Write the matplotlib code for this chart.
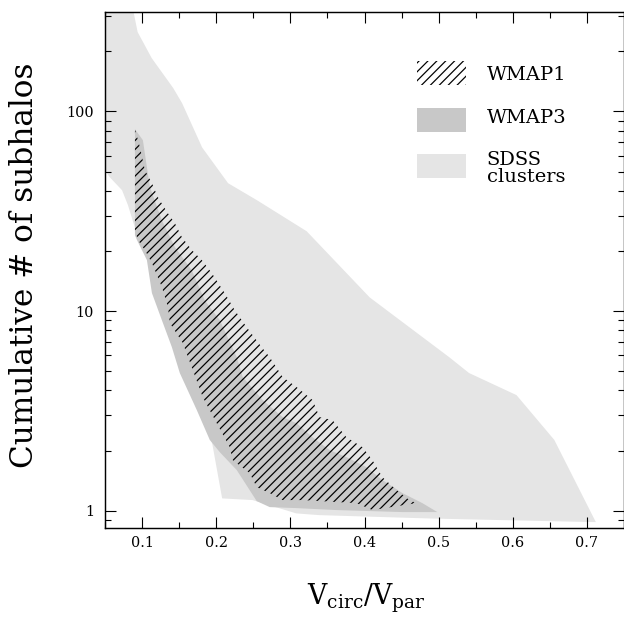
import matplotlib
matplotlib.use("Agg")
import matplotlib.pyplot as plt
from matplotlib.patches import Rectangle
from matplotlib.ticker import LogLocator, MultipleLocator, FixedFormatter, FixedLocator, NullFormatter
import numpy as np

# SDSS clusters band: upper and lower envelopes (Vcirc/Vpar, cumulative N)
sdss_upper_x = [0.040, 0.086, 0.088, 0.094, 0.113, 0.142, 0.154, 0.181, 0.216, 0.255,
                0.322, 0.407, 0.514, 0.541, 0.605, 0.656, 0.712]
sdss_upper_n = [400, 400, 322, 250, 185, 131, 110, 66, 43.7, 35.9,
                25.1, 11.7, 5.88, 4.89, 3.79, 2.26, 0.876]
sdss_lower_x = [0.040, 0.050, 0.056, 0.073, 0.081, 0.090, 0.110, 0.140, 0.170, 0.195,
                0.208, 0.249, 0.308, 0.339, 0.492, 0.700]
sdss_lower_n = [55, 50.8, 47, 40.3, 33.9, 26.4, 20, 10, 5, 2.13,
                1.151, 1.129, 0.968, 0.949, 0.912, 0.877]

# WMAP3 band
wmap3_upper_x = [0.0904, 0.1011, 0.1065, 0.1106, 0.1267, 0.1442, 0.1671, 0.1846, 0.2048,
                 0.2277, 0.2357, 0.2627, 0.2896, 0.3084, 0.3300, 0.3528, 0.3757, 0.4026,
                 0.4242, 0.4511, 0.4780, 0.4982]
wmap3_upper_n = [81.5, 71.8, 52.6, 41.8, 28.5, 20.9, 16.0, 11.3, 9.0,
                 5.88, 4.67, 3.58, 2.94, 2.74, 2.33, 2.01, 1.853, 1.651,
                 1.422, 1.224, 1.090, 0.983]
wmap3_lower_x = [0.0904, 0.0904, 0.0931, 0.1065, 0.1133, 0.1267, 0.1402, 0.1509, 0.1738,
                 0.1913, 0.2048, 0.2277, 0.2546, 0.2721, 0.3084, 0.3623, 0.4511, 0.4982]
wmap3_lower_n = [81.5, 24.0, 22.7, 18.0, 12.3, 9.0, 6.59, 4.89, 3.19,
                 2.26, 1.963, 1.596, 1.116, 1.041, 1.029, 1.006, 0.983, 0.983]

# WMAP1 band (hatched)
wmap1_upper_x = [0.0904, 0.0971, 0.1038, 0.1133, 0.1213, 0.1348, 0.1442, 0.1536, 0.1671,
                 0.1806, 0.1940, 0.2115, 0.2250, 0.2411, 0.2613, 0.2721, 0.2896, 0.3084,
                 0.3300, 0.3394, 0.3569, 0.3757, 0.3972, 0.4107, 0.4242, 0.4430, 0.4605,
                 0.4699]
wmap1_upper_n = [81.5, 66.2, 50.8, 43.7, 37.2, 30.9, 27.6, 23.5, 20.2,
                 18.0, 15.5, 12.3, 10.1, 8.30, 6.59, 5.88, 4.67, 4.16,
                 3.58, 2.94, 2.84, 2.33, 2.08, 1.79, 1.47, 1.27, 1.129,
                 1.090]
wmap1_lower_x = [0.0904, 0.0904, 0.0944, 0.1038, 0.1133, 0.1267, 0.1348, 0.1375, 0.1550,
                 0.1684, 0.1819, 0.2007, 0.2182, 0.2223, 0.2452, 0.2546, 0.2721, 0.2896,
                 0.3165, 0.3892, 0.4107, 0.4699]
wmap1_lower_n = [81.5, 25.4, 22.7, 20.2, 17.4, 13.2, 10.5, 8.70, 6.91,
                 5.06, 3.70, 2.74, 2.08, 1.79, 1.541, 1.311, 1.224, 1.129,
                 1.129, 1.090, 1.006, 1.090]

x_ticks = [0.1, 0.2, 0.3, 0.4, 0.5, 0.6, 0.7]
y_ticks = [1, 10, 100]
y_tick_labels = ["1", "10", "100"]
legend_labels = ["WMAP1", "WMAP3", "SDSS\nclusters"]

light = "#e5e5e5"
dark = "#c8c8c8"

plt.rcParams["font.family"] = ["DejaVu Serif"]
plt.rcParams["mathtext.fontset"] = "dejavuserif"
plt.rcParams["hatch.linewidth"] = 1.1


def band(xu, nu, xl, nl):
    xs = list(xu) + list(xl)[::-1]
    ns = list(nu) + list(nl)[::-1]
    return xs, ns


fig = plt.figure(figsize=(7.8, 7.725), dpi=80)
ax = fig.add_axes([105 / 624, 90 / 618, 519 / 624, 516 / 618])

xs, ns = band(sdss_upper_x, sdss_upper_n, sdss_lower_x, sdss_lower_n)
ax.fill(xs, ns, color=light, lw=0, zorder=1)
xs, ns = band(wmap3_upper_x, wmap3_upper_n, wmap3_lower_x, wmap3_lower_n)
ax.fill(xs, ns, color=dark, lw=0, zorder=2)
xs, ns = band(wmap1_upper_x, wmap1_upper_n, wmap1_lower_x, wmap1_lower_n)
ax.fill(xs, ns, facecolor="none", edgecolor="black", hatch="///", lw=0, zorder=3)

ax.set_yscale("log")
ax.set_xlim(0.05, 0.75)
ax.set_ylim(0.818, 315)

ax.xaxis.set_major_locator(FixedLocator(x_ticks))
ax.xaxis.set_minor_locator(MultipleLocator(0.05))
ax.yaxis.set_major_locator(FixedLocator(y_ticks))
ax.yaxis.set_major_formatter(FixedFormatter(y_tick_labels))
ax.yaxis.set_minor_locator(LogLocator(base=10, subs=np.arange(2, 10)))
ax.yaxis.set_minor_formatter(NullFormatter())

ax.tick_params(which="both", direction="in", top=True, right=True, width=1.0,
               labelsize=13)
ax.tick_params(which="major", length=10)
ax.tick_params(which="minor", length=5)
ax.tick_params(axis="x", pad=7)
ax.tick_params(axis="y", pad=10)
for s in ax.spines.values():
    s.set_linewidth(1.3)

ax.set_xlabel(r"$\mathrm{V_{circ}/V_{par}}$", fontsize=24)
ax.xaxis.label.set_va("baseline")
ax.xaxis.set_label_coords(0.503, -0.149)
ax.set_ylabel("Cumulative # of subhalos", fontsize=28)
ax.yaxis.label.set_va("baseline")
ax.yaxis.set_label_coords(-0.139, 0.51)

# legend keys drawn by hand (axes fractions)
key_x, key_w, key_h = 0.6006, 0.0944, 0.0465
key_y = [0.858, 0.768, 0.679]
text_x = 0.7355
text_y = [0.868, 0.785, 0.6705]   # baseline of the last line of each label
key_styles = [dict(facecolor="none", edgecolor="black", hatch="///", lw=0),
              dict(facecolor=dark, lw=0),
              dict(facecolor=light, lw=0)]
for ky, ty, lab, st in zip(key_y, text_y, legend_labels, key_styles):
    ax.add_patch(Rectangle((key_x, ky), key_w, key_h, transform=ax.transAxes,
                           zorder=4, **st))
    ax.text(text_x, ty, lab, transform=ax.transAxes, fontsize=17.5,
            va="baseline", ha="left", linespacing=0.95, zorder=5)

fig.savefig("out.png", dpi=80)
